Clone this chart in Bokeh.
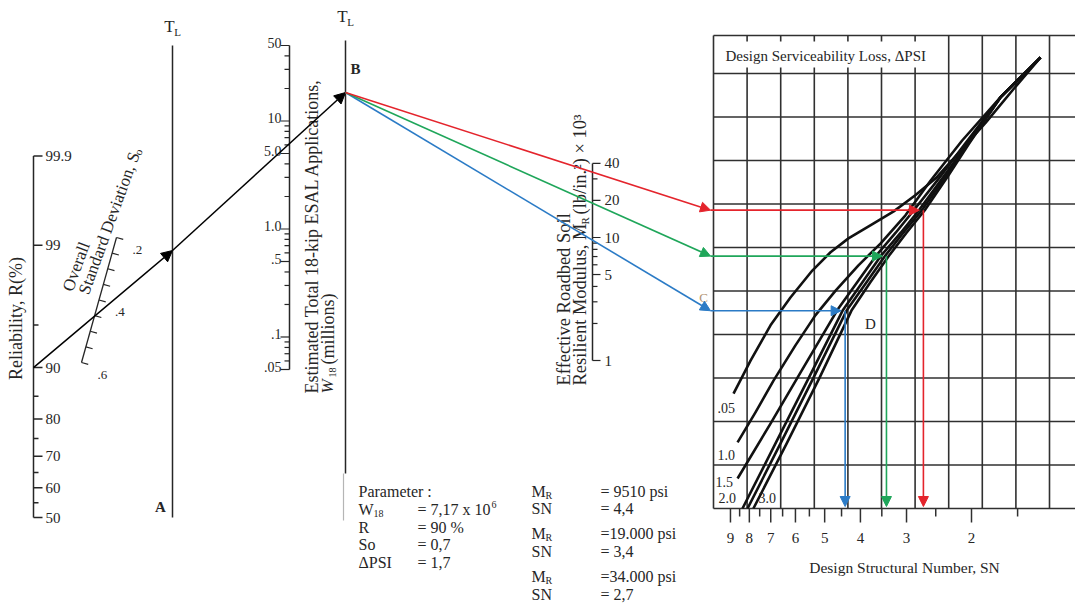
import math
from statistics import NormalDist
from bokeh.plotting import figure
from bokeh.models import Range1d, Arrow, NormalHead
from bokeh.core.properties import value
from bokeh.embed import file_html
from bokeh.resources import INLINE

# ---------------- data ----------------
r_major = [50, 60, 70, 80, 90, 99, 99.9]
r_major_labels = ["50", "60", "70", "80", "90", "99", "99.9"]
r_minor = [55, 65, 75, 85, 95]
so_ticks = [0.20, 0.25, 0.30, 0.35, 0.40, 0.45, 0.50, 0.55, 0.60]
so_labeled = [0.2, 0.4, 0.6]
so_labels = [".2", ".4", ".6"]
w18_labeled = [50, 10, 5, 1, 0.5, 0.1, 0.05]
w18_labels = ["50", "10", "5.0", "1.0", ".5", ".1", ".05"]
mr_ticks = [1, 2, 3, 4, 5, 6, 7, 8, 9, 10, 20, 30, 40]
mr_labeled = [40, 20, 10, 5, 1]
mr_labels = ["40", "20", "10", "5", "1"]
sn_major = [9, 8, 7, 6, 5, 4, 3, 2]
sn_minor = [8.5, 7.5, 6.5, 5.5, 4.5, 3.5, 2.5, 1.5]

design_R = 90
design_MR = [9.51, 19.0, 34.0]      # (lb/in^2) x 10^3
design_SN = [4.4, 3.4, 2.7]
path_colors = ["#2b7bc6", "#1fa65a", "#e4242c"]

# Design serviceability loss curves: (SN, grid row counted from the bottom)
curve_names = [".05", "1.0", "1.5", "2.0", "2.5", "3.0"]
curve_sn = [
    [8.83, 7.94, 7.01, 6.19, 5.40, 4.82, 4.31, 3.76, 3.25, 2.84, 2.50, 2.14, 1.83, 1.55, 1.30],
    [8.61, 7.70, 6.88, 6.00, 5.30, 4.67, 4.05, 3.53, 3.02, 2.58, 2.12, 1.67, 1.30],
    [8.61, 7.01, 5.81, 5.07, 4.59, 4.05, 3.62, 3.21, 2.87, 2.43, 2.08, 1.67, 1.30],
    [8.35, 6.80, 5.53, 4.47, 3.95, 3.51, 3.11, 2.78, 2.38, 2.05, 1.67, 1.30],
    [8.09, 6.59, 5.36, 4.36, 3.85, 3.42, 3.06, 2.73, 2.35, 2.04, 1.67, 1.30],
    [7.80, 6.34, 5.16, 4.23, 3.76, 3.34, 3.00, 2.68, 2.32, 2.03, 1.67, 1.30],
]
curve_row = [
    [2.64, 3.40, 4.21, 4.85, 5.47, 5.89, 6.21, 6.51, 6.83, 7.20, 7.59, 8.23, 8.87, 9.61, 10.37],
    [1.52, 2.21, 2.94, 3.75, 4.44, 5.01, 5.59, 6.09, 6.74, 7.54, 8.46, 9.45, 10.37],
    [0.69, 1.95, 3.13, 3.98, 4.60, 5.24, 5.82, 6.34, 6.85, 7.63, 8.39, 9.45, 10.37],
    [0.00, 1.49, 2.99, 4.55, 5.20, 5.82, 6.34, 6.85, 7.63, 8.39, 9.45, 10.37],
    [0.00, 1.49, 3.01, 4.55, 5.20, 5.82, 6.34, 6.85, 7.63, 8.39, 9.45, 10.37],
    [0.00, 1.49, 3.01, 4.55, 5.20, 5.82, 6.34, 6.85, 7.63, 8.39, 9.45, 10.37],
]

# ---------------- layout ----------------
W, H = 1075, 608
INK = "#262626"
FONT = "Liberation Serif"

p = figure(width=W, height=H, x_range=Range1d(0, W), y_range=Range1d(0, H),
           output_backend="svg", toolbar_location=None, min_border=0,
           x_axis_type=None, y_axis_type=None)
p.grid.visible = False
p.outline_line_color = None
p.background_fill_color = "white"
p.border_fill_color = "white"


def Y(py):
    return H - py


def seg(x0, py0, x1, py1, color=INK, width=1.5):
    p.segment(x0=[x0], y0=[Y(py0)], x1=[x1], y1=[Y(py1)], line_color=color, line_width=width)


def txt(x, py, s, size=15, align="left", baseline="middle", angle=0.0, color=INK, style="normal"):
    p.text(x=[x], y=[Y(py)], text=[s], text_font=value(FONT), text_font_size=f"{size}px",
           text_align=align, text_baseline=baseline, angle=angle, text_color=color,
           text_font_style=style)


def arrow(x0, py0, x1, py1, color, width=1.6, size=10):
    p.add_layout(Arrow(end=NormalHead(size=size, fill_color=color, line_color=color, line_width=1),
                       x_start=x0, y_start=Y(py0), x_end=x1, y_end=Y(py1),
                       line_color=color, line_width=width))


def tl_label(x, py):
    txt(x - 3, py, "T", 17, align="center")
    txt(x + 5, py + 5, "L", 11, align="center")


VERT = math.pi / 2

# ---- Reliability scale ----
RX = 33


def r_py(r):
    return 517.0 - 117.0 * NormalDist().inv_cdf(r / 100.0)


seg(RX, r_py(99.9), RX, r_py(50))
for r in r_major:
    seg(RX, r_py(r), RX + 9, r_py(r))
for r in r_minor:
    seg(RX, r_py(r), RX + 5, r_py(r))
for r, lab in zip(r_major, r_major_labels):
    txt(RX + 12, r_py(r), lab, 15)
txt(15, 318, "Reliability, R(%)", 18, align="center", angle=VERT)

# ---- Standard deviation scale (oblique) ----
S_TOP = (116.0, 237.0)
S_BOT = (81.0, 362.0)


def so_pt(s):
    t = (s - 0.2) / 0.4
    return S_TOP[0] + t * (S_BOT[0] - S_TOP[0]), S_TOP[1] + t * (S_BOT[1] - S_TOP[1])


x0, y0 = so_pt(0.2)
x1, y1 = so_pt(0.6)
seg(x0, y0, x1, y1, width=1.3)
dx, dy = x1 - x0, y1 - y0
L = math.hypot(dx, dy)
px, py_ = dy / L, -dx / L   # perpendicular pointing right
for s in so_ticks:
    sx, sy = so_pt(s)
    seg(sx, sy, sx + 7 * px, sy + 7 * py_, width=1.2)
for s, lab in zip(so_labeled, so_labels):
    sx, sy = so_pt(s)
    txt(sx + 16, sy + 12, lab, 13)
ang = math.radians(70)
txt(67, 290, "Overall", 17, angle=ang)
txt(83, 293, "Standard Deviation, S", 17, angle=ang)
wsd = 149
txt(83 + wsd * math.cos(ang) + 3 * math.sin(ang), 293 - wsd * math.sin(ang) + 3 * math.cos(ang),
    "o", 11, angle=ang)

# ---- Turning line 1 ----
TL1X = 172
TL1_PIVOT = 250
seg(TL1X, 45, TL1X, 517)
tl_label(TL1X, 26)
txt(160, 506, "A", 15, align="center", style="bold")

# ---- W18 scale ----
WX = 289


def w_py(v):
    return 45 + 108 * (math.log10(50) - math.log10(v))


seg(WX, w_py(50), WX, w_py(0.05))
for dec in [0.01, 0.1, 1, 10]:
    for m in range(1, 10):
        v = m * dec
        if 0.0499 <= v <= 50.01:
            ln = 9 if m in (1, 5) else 5
            seg(WX - ln, w_py(v), WX, w_py(v), width=1.2)
for v, lab in zip(w18_labeled, w18_labels):
    txt(WX - 8, w_py(v) - 3, lab, 14, align="right")
txt(311, 393, "Estimated Total 18-kip ESAL Applications,", 18, angle=VERT)
txt(327, 393, "W", 17, angle=VERT, style="italic")
txt(332, 377, "18", 10, angle=VERT)
txt(327, 364, "(millions)", 18, angle=VERT)

# ---- Turning line 2 ----
TL2X = 345
B_PIVOT = 92
seg(TL2X, 40, TL2X, 473)
seg(343, 473, 343, 520, color="#b5b5b5", width=1.2)
tl_label(TL2X, 16)
txt(355, 68, "B", 15, align="center", style="bold")

# black construction arrows
arrow(RX, r_py(design_R), TL1X, TL1_PIVOT, "black", width=1.5, size=11)
arrow(TL1X, TL1_PIVOT, TL2X, B_PIVOT, "black", width=1.5, size=11)

# ---- Resilient modulus scale ----
MX = 592


def m_py(v):
    return 360 - 123 * math.log10(v)


seg(MX, m_py(40), MX, m_py(1))
for v in mr_ticks:
    ln = 8 if v in (1, 5, 10, 20, 40) else 5
    seg(MX, m_py(v), MX + ln, m_py(v), width=1.2)
for v, lab in zip(mr_labeled, mr_labels):
    txt(MX + 12, m_py(v), lab, 15)
txt(563, 385, "Effective Roadbed Soil", 18.5, angle=VERT)
txt(579, 385, "Resilient Modulus, M", 18.5, angle=VERT)
txt(584, 385 - 161, "R", 11, angle=VERT)
txt(579, 385 - 171, "(lb/in.²) × 10³", 18.5, angle=VERT)

# ---- Right chart ----
GL, GT, GB = 713, 35, 508
ROW_H = 43.5
COL_W = 33.6
N_ROWS = 10
N_COLS = 10


def row_py(g):
    return GB - ROW_H * g


def sn_px(s):
    return 971 - 369 * math.log10(s / 2.0)


GRID = "#303030"
seg(GL, GT, W, GT, color=GRID, width=1.6)
for k in range(N_ROWS + 1):
    seg(GL, row_py(k), W, row_py(k), color=GRID, width=1.6)
seg(GL, GT, GL, GB, color=GRID, width=1.6)
for k in range(1, N_COLS + 1):
    x = GL + k * COL_W
    if k <= 6:
        seg(x, row_py(N_ROWS), x, GB, color=GRID, width=1.6)
        seg(x, GT, x, GT + 6, color=GRID, width=1.6)
        seg(x, row_py(N_ROWS) - 6, x, row_py(N_ROWS), color=GRID, width=1.6)
    else:
        seg(x, GT, x, GB, color=GRID, width=1.6)
txt(725, 55, "Design Serviceability Loss, ΔPSI", 15)

for sns, rows in zip(curve_sn, curve_row):
    p.line([sn_px(s) for s in sns], [Y(row_py(g)) for g in rows], line_color="#111111",
           line_width=2.6, line_join="round")
txt(717, 407, ".05", 14)
txt(717, 454, "1.0", 14)
txt(715, 481, "1.5", 14)
txt(718, 497, "2.0", 14)
txt(758, 497, "3.0", 14)
txt(870, 323, "D", 15, align="center")
txt(703, 297, "C", 13, align="center", color="#b39575")

for s in sn_major:
    seg(sn_px(s), GB, sn_px(s), GB + 14, color=GRID, width=1.5)
    txt(sn_px(s), 537, str(s), 15, align="center")
for s in sn_minor:
    seg(sn_px(s), GB, sn_px(s), GB + 8, color=GRID, width=1.5)
txt(904, 567, "Design Structural Number, SN", 15.5, align="center")

# ---- coloured design paths ----
EDGE = 710
for mr, sn, c in zip(design_MR, design_SN, path_colors):
    ys = m_py(mr)
    ye = B_PIVOT + (ys - B_PIVOT) * (EDGE - TL2X) / (MX - TL2X)
    arrow(TL2X, B_PIVOT, EDGE, ye, c, width=1.6, size=10)
    xs = sn_px(sn)
    arrow(EDGE, ye, xs - 4, ye, c, width=1.6, size=10)
    arrow(xs, ye, xs, GB - 2, c, width=1.6, size=10)

# ---- parameter block ----
PX1, PX2 = 358, 417
txt(PX1, 491, "Parameter :", 16)
txt(PX1, 509, "W", 16)
txt(PX1 + 15, 513, "18", 10)
txt(PX2, 509, "= 7,17 x 10", 16)
txt(PX2 + 74, 504, "6", 10)
txt(PX1, 527, "R", 16)
txt(PX2, 527, "= 90 %", 16)
txt(PX1, 544, "So", 16)
txt(PX2, 544, "= 0,7", 16)
txt(PX1, 562, "ΔPSI", 16)
txt(PX2, 562, "= 1,7", 16)

QX1, QX2 = 531, 600
rows_r = [(491, 508, "= 9510 psi", "= 4,4"), (533, 551, "=19.000 psi", "= 3,4"),
          (576, 594, "=34.000 psi", "= 2,7")]
for ym, ys_, vm, vs in rows_r:
    txt(QX1, ym, "M", 16)
    txt(QX1 + 14, ym + 4, "R", 10)
    txt(QX2, ym, vm, 16)
    txt(QX1, ys_, "SN", 16)
    txt(QX2, ys_, vs, 16)

open("out.html", "w").write(file_html(p, INLINE))
